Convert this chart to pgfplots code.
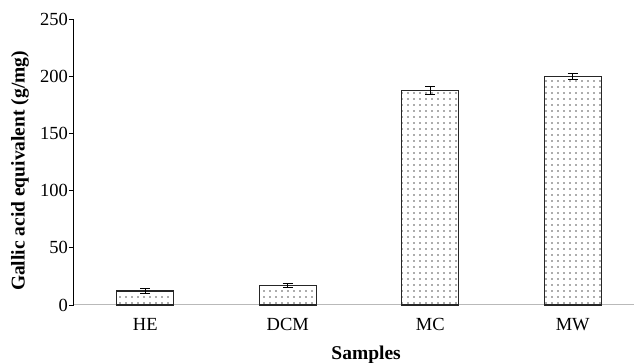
\documentclass[border=0pt]{standalone}
\usepackage{pgfplots}
\pgfplotsset{compat=1.18}
\usepackage{fontspec}
\setmainfont{Liberation Serif}
\usetikzlibrary{patterns.meta}
\begin{document}
\begin{tikzpicture}
\fontsize{18.5}{22}\selectfont
\begin{axis}[
  at={(0,0)}, anchor=south west,
  scale only axis,
  width=560pt, height=286pt,
  xmin=-0.5, xmax=3.43,
  ymin=0, ymax=250,
  axis x line=bottom, axis y line=left,
  axis line style={-},
  x axis line style={draw=gray!55, line width=1pt},
  y axis line style={draw=black, line width=1pt},
  xtick={0,1,2,3},
  xticklabels={HE,DCM,MC,MW},
  x tick style={draw=none},
  extra x ticks={0.5,1.5,2.5},
  extra x tick labels={},
  extra x tick style={tick align=outside, major tick length=5pt, tick style={draw=black, line width=0.8pt}},
  ytick={0,50,...,250},
  tick align=outside,
  y tick style={draw=black, line width=0.8pt},
  major tick length=5pt,
  yticklabel style={inner sep=1pt, font=\fontsize{18.5}{22}\selectfont},
  xticklabel style={inner sep=0pt, yshift=-8pt, font=\fontsize{18.5}{22}\selectfont},
  /pgf/number format/assume math mode=true,
  every axis y label/.style={at={(axis description cs:0,0.5)}, xshift=-54pt, yshift=-9pt, rotate=90, anchor=center},
  every axis x label/.style={at={(axis cs:1.55,0)}, anchor=center, yshift=-50pt},
  ylabel={\fontsize{19.5}{22}\selectfont\bfseries Gallic acid equivalent (g/mg)},
  xlabel={\fontsize{19.5}{22}\selectfont\bfseries Samples},
  clip=false,
]
\addplot[ybar, bar width=57pt, draw=black!85, line width=1.2pt,
  pattern={Dots[distance=6pt, radius=0.85pt]}, pattern color=black!65,
  error bars/.cd, y dir=both, y explicit,
  error bar style={line width=1pt, black},
  error mark options={rotate=90, mark size=5pt, line width=1pt, black}]
coordinates {
  (0,12.2) +- (0,2.0)
  (1,17.0) +- (0,1.5)
  (2,187.5) +- (0,3.6)
  (3,199.8) +- (0,2.5)
};
\end{axis}
\pgfresetboundingbox
\path[use as bounding box] (-74pt,-58pt) rectangle (560pt,305pt);
\end{tikzpicture}
\end{document}
